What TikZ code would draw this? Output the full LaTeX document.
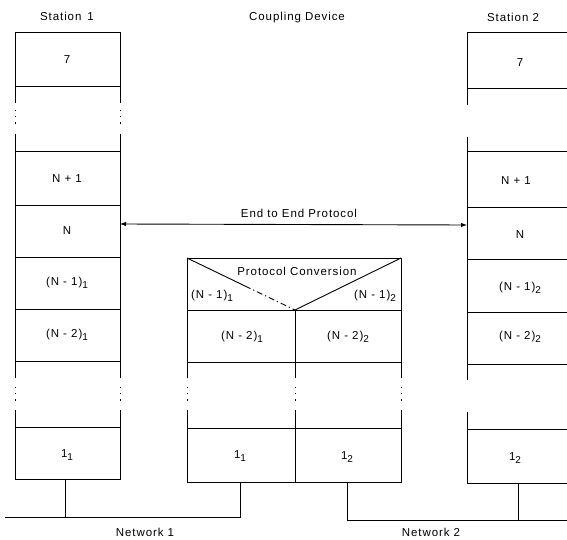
\documentclass[tikz,border=0pt]{standalone}
\usepackage{fontspec}
\setmainfont{Liberation Sans}[LetterSpace=8]
\usetikzlibrary{arrows.meta}
\newcommand{\sbs}[1]{\raisebox{-0.55ex}{\fontsize{10}{11}\selectfont #1}}
\begin{document}
\begin{tikzpicture}[x=1pt,y=-1pt,line width=0.9pt,
  lbl/.style={font=\fontsize{11.5}{13}\selectfont,inner sep=0pt},
  dotl/.style={line width=1pt,dash pattern=on 1.2pt off 5pt},
  >={Latex[length=6pt,width=4.5pt]}]
\useasboundingbox (0,0) rectangle (567,540);

% ---------- headings ----------
\node[lbl] (h1) at (67,16) {Station \,1};
\node[lbl] (h2) at (297,18) {Coupling Device};
\node[lbl] (h3) at (513,17) {Station 2};

% ---------- Station 1 frame ----------
\draw (15,103) -- (15,32) -- (120,32) -- (120,103);
\draw[dotl] (15,110) -- (15,128);
\draw[dotl] (120,110) -- (120,128);
\draw (15,134) -- (15,378);
\draw (120,134) -- (120,378);
\foreach \yy in {86,151,205,257,309,361} \draw (15,\yy) -- (120,\yy);
\draw[dotl] (15,387) -- (15,403);
\draw[dotl] (120,387) -- (120,403);
\draw (15,410) -- (15,479) -- (120,479) -- (120,410);
\draw (15,427) -- (120,427);

\node[lbl] (s1a) at (67,60) {7};
\node[lbl] (s1b) at (67,179) {N + 1};
\node[lbl] (s1c) at (67,231) {N};
\node[lbl] (s1d) at (67,283) {(N - 1)\sbs{1}};
\node[lbl] (s1e) at (67,335) {(N - 2)\sbs{1}};
\node[lbl] (s1f) at (67,455) {1\sbs{1}};

% ---------- Coupling device frame ----------
\draw (187,378) -- (187,258) -- (401,258) -- (401,378);
\draw (295,310) -- (295,378);
\draw (187,310) -- (401,310);
\draw (187,362) -- (401,362);
\draw (187,258) -- (245,286);
\draw[dash pattern=on 6pt off 3pt on 1.2pt off 3pt] (245,286) -- (295,310);
\draw (401,258) -- (295,310);
\draw[dotl] (187,387) -- (187,403);
\draw[dotl] (295,387) -- (295,403);
\draw[dotl] (401,387) -- (401,403);
\draw (187,410) -- (187,482) -- (401,482) -- (401,410);
\draw (295,410) -- (295,482);
\draw (187,428) -- (401,428);

\node[lbl] (pc) at (297,271) {Protocol Conversion};
\node[lbl] (c1) at (212,296) {(N - 1)\sbs{1}};
\node[lbl] (c2) at (375,296) {(N - 1)\sbs{2}};
\node[lbl] (c3) at (242,337) {(N - 2)\sbs{1}};
\node[lbl] (c4) at (348,337) {(N - 2)\sbs{2}};
\node[lbl] (c5) at (240,456) {1\sbs{1}};
\node[lbl] (c6) at (347,457) {1\sbs{2}};

% ---------- Station 2 frame ----------
\draw (467,105) -- (467,32) -- (567,32);
\draw (467,137) -- (467,380);
\draw (467,412) -- (467,483) -- (567,483);
\foreach \yy in {88,151,207,259,312,364,429} \draw (467,\yy) -- (567,\yy);

\node[lbl] (s2a) at (520,63) {7};
\node[lbl] (s2b) at (516,181) {N + 1};
\node[lbl] (s2c) at (520,235) {N};
\node[lbl] (s2d) at (520,288) {(N - 1)\sbs{2}};
\node[lbl] (s2e) at (520,337) {(N - 2)\sbs{2}};
\node[lbl] (s2f) at (515,458) {1\sbs{2}};

% ---------- end to end protocol ----------
\coordinate (e1) at (120,224);
\coordinate (e2) at (467,225);
\draw[<->] (e1) -- (e2);
\node[lbl] (etp) at (299,213) {End to End Protocol};

% ---------- networks ----------
\coordinate (b1) at (65,479);
\coordinate (b2) at (240,482);
\coordinate (b3) at (347,482);
\coordinate (b4) at (518,483);
\coordinate (n1l) at (5,517);
\coordinate (n1r) at (240,517);
\coordinate (n2l) at (347,520);
\coordinate (n2r) at (567,520);
\draw (n1l) -- (n1r) -- (b2);
\draw (b1) -- (b1 |- n1l);
\draw (b3) -- (n2l) -- (n2r);
\draw (b4) -- (b4 |- n2l);
\node[lbl] (nw1) at (145,532) {Network 1};
\node[lbl] (nw2) at (431,532) {Network 2};
\end{tikzpicture}
\end{document}
